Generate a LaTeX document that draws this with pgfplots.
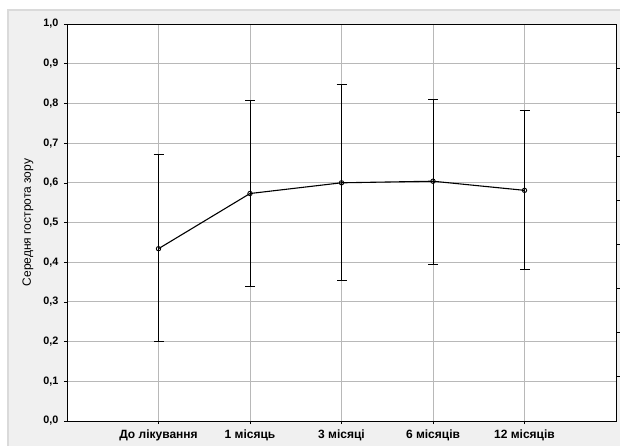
\documentclass[border=0pt]{standalone}
\usepackage{fontspec}
\setmainfont{Liberation Sans}
\usepackage{pgfplots}
\pgfplotsset{compat=1.18}
\definecolor{bggray}{HTML}{F0F0F0}
\definecolor{bordergray}{HTML}{DADADA}
\definecolor{gridgray}{HTML}{B8B8B8}
\begin{document}
\begin{tikzpicture}[x=1pt,y=1pt]
\useasboundingbox (-67,-24) rectangle (553,421);
\fill[white] (-67,-24) rectangle (553,421);
\fill[bggray] (-59,-30) rectangle (560,411);
\draw[bordergray, line width=2.5pt] (-59,-30) -- (-59,411) -- (560,411);
\begin{axis}[
  at={(0,0)}, anchor=south west,
  scale only axis, width=549pt, height=397pt,
  xmin=-1, xmax=5, ymin=0, ymax=1,
  axis background/.style={fill=white},
  xtick={0,1,2,3,4},
  xticklabels={До лікування, 1 місяць, 3 місяці, 6 місяців, 12 місяців},
  ytick={0,0.1,0.2,0.3,0.4,0.5,0.6,0.7,0.8,0.9,1.0},
  xtick pos=bottom, ytick pos=left,
  tick align=outside, major tick length=3pt,
  tick style={black, line width=0.6pt},
  grid=major, grid style={gridgray, line width=0.9pt},
  axis line style={black, line width=0.9pt},
  /pgf/number format/assume math mode=true,
  yticklabel style={font=\bfseries\fontsize{10.8}{13}\selectfont, xshift=-2pt,
    /pgf/number format/.cd, fixed, fixed zerofill, precision=1, use comma},
  xticklabel style={font=\bfseries\fontsize{12}{14}\selectfont, yshift=-2pt},
  ylabel={Середня гострота зору},
  ylabel style={font=\fontsize{12}{14}\selectfont, at={(axis description cs:-0.071,0.5)}, anchor=center},
]
\addplot[black, line width=1.1pt, mark=o, mark size=2.2pt,
  mark options={fill=white, line width=0.9pt},
  error bars/.cd, y dir=both, y explicit,
  error bar style={black, line width=0.8pt},
  error mark options={rotate=90, mark size=5pt, black, line width=0.8pt}]
coordinates {
  (0,0.434) += (0,0.237) -= (0,0.234)
  (1,0.573) += (0,0.234) -= (0,0.235)
  (2,0.600) += (0,0.249) -= (0,0.246)
  (3,0.604) += (0,0.207) -= (0,0.209)
  (4,0.581) += (0,0.202) -= (0,0.200)
};
\end{axis}
\begin{axis}[
  at={(0,0)}, anchor=south west,
  scale only axis, width=549pt, height=397pt,
  xmin=-1, xmax=5, ymin=0, ymax=9,
  axis x line=none, axis y line*=right,
  axis line style={black, line width=0.9pt},
  ytick={1,2,3,4,5,6,7,8}, yticklabels={},
  tick align=outside, major tick length=4pt,
  tick style={black, line width=0.8pt},
]
\end{axis}
\end{tikzpicture}
\end{document}
